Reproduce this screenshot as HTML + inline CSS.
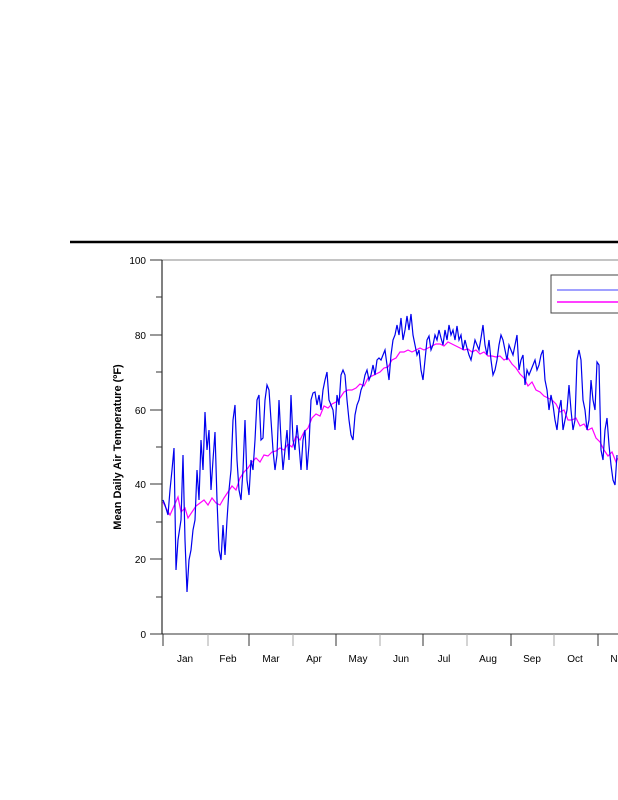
<!DOCTYPE html>
<html><head><meta charset="utf-8"><style>
html,body{margin:0;padding:0;background:#fff;width:618px;height:800px;overflow:hidden}
svg text{font-family:"Liberation Sans",sans-serif;font-size:10px;fill:#000}
</style></head><body>
<svg width="618" height="800" viewBox="0 0 618 800" xmlns="http://www.w3.org/2000/svg">
<line x1="70" y1="242" x2="618" y2="242" stroke="#000" stroke-width="2.5"/>
<line x1="162" y1="260" x2="618" y2="260" stroke="#888" stroke-width="1"/>
<line x1="162" y1="634" x2="618" y2="634" stroke="#333" stroke-width="1"/>
<line x1="162" y1="260" x2="162" y2="634" stroke="#000" stroke-width="1"/>
<g stroke="#333" stroke-width="1">
<line x1="150" y1="260" x2="162" y2="260"/><line x1="156" y1="297" x2="162" y2="297"/>
<line x1="150" y1="335" x2="162" y2="335"/><line x1="156" y1="372" x2="162" y2="372"/>
<line x1="150" y1="410" x2="162" y2="410"/><line x1="156" y1="447" x2="162" y2="447"/>
<line x1="150" y1="484" x2="162" y2="484"/><line x1="156" y1="522" x2="162" y2="522"/>
<line x1="150" y1="559" x2="162" y2="559"/><line x1="156" y1="597" x2="162" y2="597"/>
<line x1="150" y1="634" x2="162" y2="634"/>
<line x1="163" y1="634" x2="163" y2="646"/><line x1="249" y1="634" x2="249" y2="646"/>
<line x1="336" y1="634" x2="336" y2="646"/><line x1="423" y1="634" x2="423" y2="646"/>
<line x1="511" y1="634" x2="511" y2="646"/><line x1="598" y1="634" x2="598" y2="646"/>
</g>
<g stroke="#aaa" stroke-width="1">
<line x1="208" y1="634" x2="208" y2="646"/><line x1="293" y1="634" x2="293" y2="646"/>
<line x1="380" y1="634" x2="380" y2="646"/><line x1="467" y1="634" x2="467" y2="646"/>
<line x1="554" y1="634" x2="554" y2="646"/>
</g>
<g text-anchor="end">
<text x="146" y="264">100</text><text x="146" y="339">80</text><text x="146" y="414">60</text>
<text x="146" y="488">40</text><text x="146" y="563">20</text><text x="146" y="638">0</text>
</g>
<g text-anchor="middle">
<text x="185" y="662">Jan</text><text x="228" y="662">Feb</text><text x="271" y="662">Mar</text>
<text x="314" y="662">Apr</text><text x="358" y="662">May</text><text x="401" y="662">Jun</text>
<text x="444" y="662">Jul</text><text x="488" y="662">Aug</text><text x="532" y="662">Sep</text>
<text x="575" y="662">Oct</text><text x="614" y="662">N</text>
</g>
<text transform="translate(121,447) rotate(-90)" text-anchor="middle" style="font-weight:bold;font-size:11px">Mean Daily Air Temperature (ºF)</text>
<polyline fill="none" stroke="#ff00ff" stroke-width="1.2" points="163,502 166,508 170,515 174,506 178,497 181,512 185,508 188,518 192,512 196,506 200,503 204,500 208,505 212,498 216,503 220,505 224,498 228,492 232,486 236,490 240,478 244,472 248,468 252,462 256,458 260,462 264,455 268,456 272,452 276,451 280,448 284,450 288,444 292,447 296,436 300,440 304,432 308,428 312,418 316,414 320,416 324,406 328,408 332,404 336,402 340,398 344,392 348,390 352,390 356,388 360,384 364,386 368,378 372,376 376,374 380,372 384,368 388,367 392,360 396,358 400,352 404,352 408,350 412,352 416,350 420,348 424,350 428,348 432,346 436,344 440,344 444,346 448,342 452,344 456,346 460,348 464,350 468,349 472,352 476,350 480,354 484,352 488,356 492,356 496,357 500,356 504,360 508,358 512,364 516,368 520,374 524,378 528,386 532,382 536,390 540,392 544,396 548,398 552,400 556,404 560,412 564,410 568,420 572,420 576,418 580,426 584,424 588,430 592,428 596,438 600,442 604,450 608,456 612,452 616,462 618,458"/>
<polyline fill="none" stroke="#0000ee" stroke-width="1.2" points="163,500 165,505 168,515 170,490 172,470 174,448 176,570 178,540 181,520 183,455 185,540 187,592 189,560 191,550 193,530 195,520 197,470 199,500 201,440 203,470 205,412 207,450 209,430 211,490 213,460 215,432 217,500 219,550 221,560 223,525 225,555 227,520 229,490 231,470 233,420 235,405 237,460 239,490 241,500 243,470 245,420 247,480 249,495 251,460 253,470 255,440 257,400 259,395 261,440 263,438 265,400 267,385 269,390 271,420 273,450 275,470 277,455 279,400 281,440 283,470 285,450 287,430 289,460 291,395 293,440 295,450 297,425 299,445 301,470 303,440 305,430 307,470 309,445 311,400 313,393 315,392 317,405 319,395 321,410 323,390 325,380 327,372 329,400 331,405 333,410 335,430 337,395 339,405 341,375 343,370 345,375 347,400 349,420 351,435 353,440 355,415 357,405 359,400 361,390 363,385 365,375 367,370 369,380 371,375 373,365 375,375 377,360 379,358 381,360 383,355 385,350 387,365 389,380 391,355 393,340 395,335 397,325 399,335 401,318 403,340 405,330 407,316 409,330 411,314 413,335 415,345 417,355 419,350 421,370 423,380 425,360 427,340 429,336 431,350 433,345 435,335 437,340 439,330 441,338 443,345 445,330 447,340 449,325 451,335 453,330 455,340 457,326 459,340 461,335 463,350 465,340 467,348 469,355 471,360 473,350 475,340 477,345 479,350 481,338 483,325 485,345 487,355 489,340 491,360 493,375 495,370 497,360 499,345 501,335 503,340 505,350 507,360 509,345 511,350 513,355 515,345 517,335 519,370 521,360 523,355 525,385 527,370 529,375 531,370 533,365 535,360 537,370 539,365 541,355 543,350 545,380 547,390 549,410 551,395 553,405 555,420 557,430 559,410 561,400 563,430 565,420 567,410 569,385 571,410 573,430 575,420 577,360 579,350 581,360 583,400 585,410 587,430 589,420 591,380 593,400 595,410 597,362 599,365 601,450 603,460 605,430 607,418 609,445 611,465 613,480 615,485 617,455"/>
<rect x="551" y="275" width="80" height="38" fill="#fff" stroke="#444" stroke-width="1"/>
<line x1="557" y1="290" x2="618" y2="290" stroke="#8080ff" stroke-width="1.5"/>
<line x1="557" y1="302" x2="618" y2="302" stroke="#ff00ff" stroke-width="1.5"/>
</svg>
</body></html>
